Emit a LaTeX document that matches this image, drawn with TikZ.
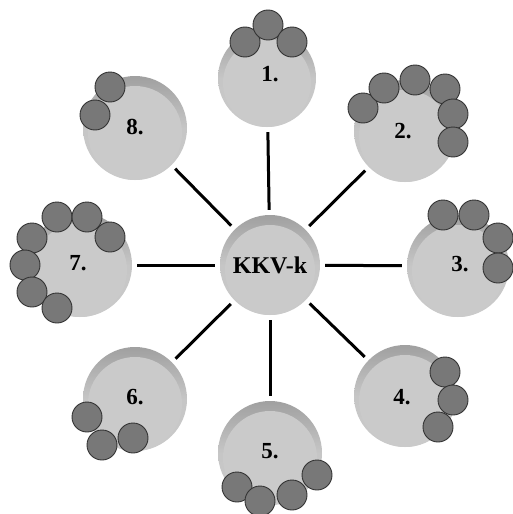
\documentclass[tikz,border=0pt]{standalone}
\usepackage{fontspec}
\setmainfont{Liberation Serif}
\definecolor{face}{RGB}{202,202,202}
\definecolor{rim}{RGB}{160,160,160}
\definecolor{beadc}{RGB}{120,120,120}
\tikzset{
  disc/.style={circle, minimum size=#1, inner sep=0pt,
    path picture={
      \shade[top color=rim, bottom color=face, middle color=face!90!rim] (path picture bounding box.south west) rectangle (path picture bounding box.north east);
      \fill[face] ([yshift=-5pt]path picture bounding box.center) circle (#1/2-5pt);
    }},
  disc/.default=102pt,
  bead/.style={fill=beadc, draw=black!80, line width=0.9pt},
  spoke/.style={line width=3pt, black, shorten <=5pt, shorten >=5pt},
  lbl/.style={font=\bfseries\fontsize{23}{25}\selectfont, inner sep=0pt},
  lblc/.style={font=\bfseries\fontsize{24}{26}\selectfont, inner sep=0pt}
}
\begin{document}
\begin{tikzpicture}[x=1pt,y=-1pt]
\useasboundingbox (0,0) rectangle (513,514);
\fill[white] (0,0) rectangle (513,514);
\node[disc=100pt] (c) at (270,265) {};
\node[disc=98pt] (n1) at (267,78) {};
\node[disc] (n2) at (405,131) {};
\node[disc] (n3) at (458,266) {};
\node[disc] (n4) at (405,396) {};
\node[disc=104pt] (n5) at (270,453) {};
\node[disc=104pt] (n6) at (135,399) {};
\node[disc=104pt] (n7) at (80,265) {};
\node[disc=104pt] (n8) at (135,128) {};
\foreach \n in {1,...,8} \draw[spoke] (c) -- (n\n);
% beads
\foreach \p in {(245,42),(268,25),(292,42)} \draw[bead] \p circle (15);
\foreach \p in {(363,108),(384,88),(415,80),(445,89),(453,114),(453,142)} \draw[bead] \p circle (15);
\foreach \p in {(443,215),(474,215),(498,238),(498,268)} \draw[bead] \p circle (15);
\foreach \p in {(445,372),(453,400),(438,427)} \draw[bead] \p circle (15);
\foreach \p in {(237,487),(260,501),(292,495),(317,475)} \draw[bead] \p circle (15);
\foreach \p in {(87,417),(102,445),(133,438)} \draw[bead] \p circle (15);
\foreach \p in {(57,217),(87,217),(110,237),(32,238),(25,265),(32,292),(57,308)} \draw[bead] \p circle (15);
\foreach \p in {(110,87),(95,115)} \draw[bead] \p circle (15);
% labels
\node[lblc] (lc) at (270,265) {KKV-k};
\node[lbl] (l1) at (270,74) {1.};
\node[lbl] (l2) at (403,131) {2.};
\node[lbl] (l3) at (460,264) {3.};
\node[lbl] (l4) at (402,397) {4.};
\node[lbl] (l5) at (270,451) {5.};
\node[lbl] (l6) at (135,397) {6.};
\node[lbl] (l7) at (78,263) {7.};
\node[lbl] (l8) at (135,127) {8.};
\end{tikzpicture}
\end{document}
